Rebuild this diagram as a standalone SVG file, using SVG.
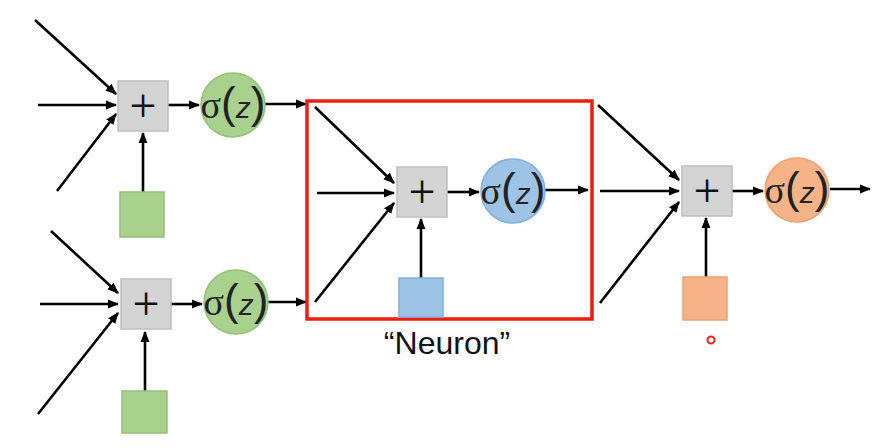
<svg xmlns="http://www.w3.org/2000/svg" width="891" height="448" viewBox="0 0 891 448">
<defs>
<marker id="ah" viewBox="0 0 10 10" refX="9" refY="5" markerWidth="4.4" markerHeight="4.4" orient="auto" markerUnits="strokeWidth">
<path d="M0,1 L10,5 L0,9 z" fill="#000"/>
</marker>
<style>
.sum{fill:#d4d4d4;stroke:#bfbfbf;stroke-width:1.5}
.plus{font-family:"Liberation Serif","Times New Roman",serif;font-size:48px;text-anchor:middle;fill:#111}
.sig{font-family:"Liberation Serif","Times New Roman",serif;font-size:38px;text-anchor:middle;fill:#222}
.par{font-family:"Liberation Sans",Arial,sans-serif;font-size:44px;font-weight:normal}
.z{font-family:"Liberation Sans",Arial,sans-serif;font-style:italic;font-size:30px}
.g{fill:#a9d18e;stroke:#92c274;stroke-width:1.5}
.b{fill:#9dc3e6;stroke:#82b0dc;stroke-width:1.5}
.o{fill:#f6b388;stroke:#f0a070;stroke-width:1.5}
.c line{stroke:#000;stroke-width:2.6;marker-end:url(#ah)}
</style>
</defs>
<rect width="891" height="448" fill="#fff"/>
<g class="c" id="connectors">
<line x1="35" y1="20" x2="116" y2="94"/>
<line x1="38" y1="105" x2="116" y2="105"/>
<line x1="57" y1="191" x2="116" y2="114"/>
<line x1="143" y1="192" x2="143" y2="133"/>
<line x1="168" y1="105" x2="199" y2="105"/>
<line x1="265" y1="104" x2="306" y2="104"/>
<line x1="51" y1="231" x2="118" y2="293"/>
<line x1="40" y1="304" x2="118" y2="304"/>
<line x1="38" y1="414" x2="118" y2="313"/>
<line x1="145" y1="391" x2="145" y2="332"/>
<line x1="171" y1="304" x2="202" y2="304"/>
<line x1="268" y1="302" x2="306" y2="302"/>
<line x1="315" y1="107" x2="394" y2="183"/>
<line x1="317" y1="193" x2="394" y2="193"/>
<line x1="315" y1="302" x2="394" y2="203"/>
<line x1="421" y1="278" x2="421" y2="219"/>
<line x1="447" y1="192" x2="479" y2="192"/>
<line x1="545" y1="190" x2="588" y2="190"/>
<line x1="598" y1="105" x2="679" y2="180"/>
<line x1="600" y1="191" x2="679" y2="191"/>
<line x1="600" y1="303" x2="679" y2="202"/>
<line x1="706" y1="277" x2="706" y2="218"/>
<line x1="732" y1="191" x2="763" y2="191"/>
<line x1="830" y1="189" x2="870" y2="189"/>
</g>
<g id="neuron-box">
<rect x="307" y="101" width="285" height="218" fill="none" stroke="#f01e10" stroke-width="3.5"/>
<text x="447" y="354" font-family="Liberation Sans,Arial,sans-serif" font-size="32" text-anchor="middle" fill="#111">“Neuron”</text>
</g>
<g id="n1">
<rect class="sum" x="118" y="81" width="50" height="50"/>
<text class="plus" x="143" y="122">+</text>
<circle class="g" cx="233" cy="105" r="32"/>
<text class="sig" x="233" y="118">σ<tspan class="par">(</tspan><tspan class="z">z</tspan><tspan class="par">)</tspan></text>
<rect class="g" x="120" y="192" width="44" height="45"/>
</g>
<g id="n2">
<rect class="sum" x="121" y="279" width="50" height="50"/>
<text class="plus" x="146" y="320">+</text>
<circle class="g" cx="236" cy="302" r="32"/>
<text class="sig" x="236" y="315">σ<tspan class="par">(</tspan><tspan class="z">z</tspan><tspan class="par">)</tspan></text>
<rect class="g" x="122" y="391" width="45" height="42"/>
</g>
<g id="n3">
<rect class="sum" x="397" y="167" width="50" height="50"/>
<text class="plus" x="422" y="208">+</text>
<circle class="b" cx="513" cy="191" r="32"/>
<text class="sig" x="513" y="204">σ<tspan class="par">(</tspan><tspan class="z">z</tspan><tspan class="par">)</tspan></text>
<rect class="b" x="399" y="278" width="44" height="39"/>
</g>
<g id="n4">
<rect class="sum" x="682" y="166" width="50" height="50"/>
<text class="plus" x="707" y="207">+</text>
<circle class="o" cx="797" cy="190" r="32"/>
<text class="sig" x="797" y="203">σ<tspan class="par">(</tspan><tspan class="z">z</tspan><tspan class="par">)</tspan></text>
<rect class="o" x="683" y="277" width="44" height="43"/>
</g>
<circle cx="711" cy="340" r="3.5" fill="none" stroke="#f02020" stroke-width="2"/>
</svg>
